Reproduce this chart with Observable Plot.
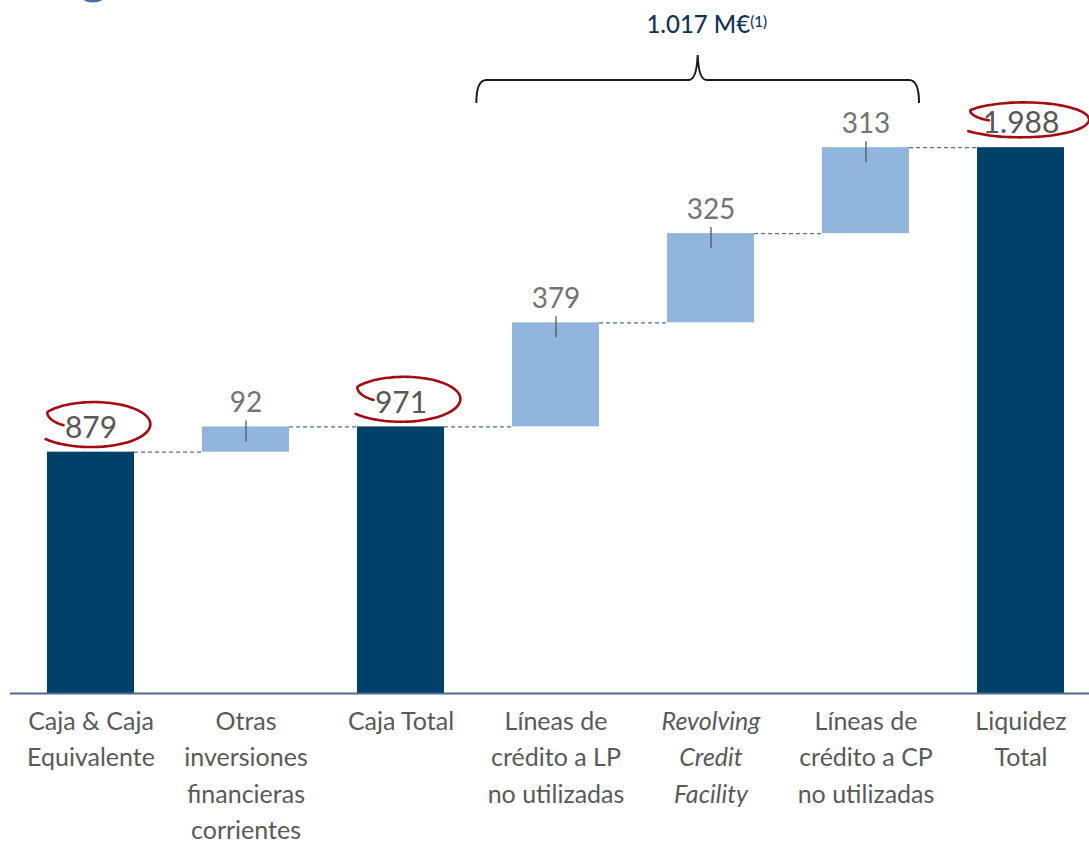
<!DOCTYPE html>
<html><head><meta charset="utf-8">
<script src="https://cdn.jsdelivr.net/npm/d3@7"></script>
<script src="https://cdn.jsdelivr.net/npm/@observablehq/plot@0.6"></script>
<style>
body{margin:0;background:#fff;}
#chart svg text{font-weight:400;}
</style>
</head><body><div id="chart"></div>
<script>
const categories = ["Caja & Caja Equivalente","Otras inversiones financieras corrientes","Caja Total","Líneas de crédito a LP no utilizadas","Revolving Credit Facility","Líneas de crédito a CP no utilizadas","Liquidez Total"];
const tickLabels = ["Caja & Caja\nEquivalente","Otras\ninversiones\nfinancieras\ncorrientes","Caja Total","Líneas de\ncrédito a LP\nno utilizadas","Revolving\nCredit\nFacility","Líneas de\ncrédito a CP\nno utilizadas","Liquidez\nTotal"];
const values = [879, 92, 971, 379, 325, 313, 1988];
const kinds = ["total","delta","total","delta","delta","delta","total"];
const valueLabels = ["879","92","971","379","325","313","1.988"];
const italicCategories = ["Revolving Credit Facility"];
const bracketFrom = "Líneas de crédito a LP no utilizadas";
const bracketTo = "Líneas de crédito a CP no utilizadas";
const bracketLabel = "1.017 M€";
const bracketNote = "(1)";

const rows = [];
let running = 0;
categories.forEach((c, i) => {
  const v = values[i];
  let start, end;
  if (kinds[i] === "total") { start = 0; end = v; }
  else { start = running; end = running + v; }
  running = end;
  rows.push({cat: c, start, end, kind: kinds[i], label: valueLabels[i]});
});
const connectors = rows.slice(0, -1).map((r, i) => ({from: r.cat, to: rows[i + 1].cat, level: r.end}));
const totals = rows.filter(r => r.kind === "total");
const deltas = rows.filter(r => r.kind === "delta");

const xOptions = {type: "band", domain: categories, range: [7, 1104], paddingInner: 0.44, paddingOuter: 0.25};
const bw = Plot.scale({x: xOptions}).bandwidth;

const LABEL_DY = -24;

const plot = Plot.plot({
  width: 1089, height: 843,
  marginTop: 0, marginBottom: 150, marginLeft: 10, marginRight: 0,
  x: {...xOptions, axis: null},
  y: {domain: [0, 2524], axis: null},
  style: {fontFamily: "Lato, 'Open Sans', sans-serif", color: "#595959", background: "#fff", overflow: "visible"},
  marks: [
    Plot.ruleY(connectors, {x1: "from", x2: "to", y: "level", insetLeft: bw, insetRight: bw, stroke: "#56708f", strokeWidth: 1.2, strokeDasharray: "4,3"}),
    Plot.barY(totals, {x: "cat", y1: "start", y2: "end", fill: "#00416a"}),
    Plot.barY(deltas, {x: "cat", y1: "start", y2: "end", fill: "#91b5dd"}),
    Plot.ruleX(deltas, {x: "cat", y1: "end", y2: "end", insetTop: -6, insetBottom: -15, stroke: "#555", strokeWidth: 1.3}),
    Plot.ruleY([0], {stroke: "#50698c", strokeWidth: 2}),
    Plot.text(totals, {x: "cat", y: "end", text: "label", dy: LABEL_DY, fontSize: 30, fill: "#575757"}),
    Plot.text(deltas, {x: "cat", y: "end", text: "label", dy: LABEL_DY, fontSize: 28, fill: "#737373"}),
    Plot.axisX({tickSize: 0, tickPadding: 11, fontSize: 25, lineHeight: 1.45, tickFormat: d => tickLabels[categories.indexOf(d)]})
  ]
});
document.getElementById("chart").appendChild(plot);

const svg = d3.select(plot);
const xs = plot.scale("x");
const ys = plot.scale("y");

// italic category
svg.selectAll('g[aria-label="x-axis tick label"] text').each(function() {
  const t = this.textContent;
  if (italicCategories.some(c => c.replace(/\s/g, "") === t.replace(/\s/g, ""))) d3.select(this).style("font-style", "italic");
});

// hand-drawn red ellipses around totals
const ell = svg.append("g").attr("fill", "none").attr("stroke", "#a30d12").attr("stroke-width", 2.6).attr("stroke-linecap", "round");
totals.forEach(r => {
  const n = r.label.length;
  const cx = xs.apply(r.cat) + bw / 2 + 3;
  const cy = ys.apply(r.end) + LABEL_DY - 4;
  const rx = 55 + (n - 3) * 4.2;
  const ry = 21.5 - (n - 3) * 2.4;
  const pts = [];
  const a0 = 0.96 * Math.PI, a1 = 2.78 * Math.PI, aK = 1.18 * Math.PI;
  for (let k = 0; k <= 90; k++) {
    const a = a0 + (a1 - a0) * k / 90;
    const f = a < aK ? 0.55 + 0.45 * (a - a0) / (aK - a0) : 1 + 0.13 * Math.pow((a - aK) / (a1 - aK), 2);
    const px = rx * f * Math.cos(a), py = ry * f * Math.sin(a);
    pts.push([cx + px, cy + py]);
  }
  ell.append("path").attr("d", d3.line().curve(d3.curveBasis)(pts));
});

// bracket over the credit lines
const L = xs.apply(bracketFrom) - 0.41 * bw;
const R = xs.apply(bracketTo) + bw * 1.115;
const M = (L + R) / 2;
const yPeak = 55, yMid = 80, yEnd = 103;
svg.append("path")
  .attr("fill", "none").attr("stroke", "#1a1a1a").attr("stroke-width", 2)
  .attr("d", `M${L},${yEnd} Q${L},${yMid} ${L + 10},${yMid} L${M - 9},${yMid} Q${M - 1},${yMid} ${M},${yPeak} Q${M + 1},${yMid} ${M + 9},${yMid} L${R - 10},${yMid} Q${R},${yMid} ${R},${yEnd}`);
const lbl = svg.append("text")
  .attr("x", M + 9).attr("y", 25).attr("dy", "0.35em")
  .attr("text-anchor", "middle").attr("fill", "#0f3553")
  .style("font-size", "24px").style("font-weight", "500").style("font-family", "Lato, sans-serif")
  .text(bracketLabel);
lbl.append("tspan").attr("dy", "-0.45em").style("font-size", "15px").text(bracketNote);

// partial logo arc at top-left edge
svg.append("ellipse").attr("cx", 93).attr("cy", -11).attr("rx", 15).attr("ry", 12)
  .attr("fill", "none").attr("stroke", "#4a6fa5").attr("stroke-width", 3);
</script>
</body></html>
